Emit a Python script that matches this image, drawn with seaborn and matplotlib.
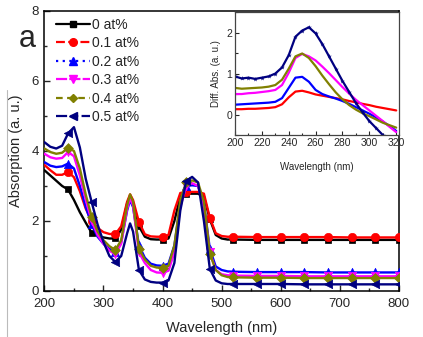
import numpy as np
import pandas as pd
import seaborn as sns
import matplotlib
matplotlib.use("Agg")
import matplotlib.pyplot as plt
from matplotlib.lines import Line2D
from matplotlib.ticker import MultipleLocator

# ---------------- data (main panel) ----------------
wl = [200, 210, 220, 230, 240, 250, 260, 270, 280, 290, 300, 310, 320, 330, 340, 345, 350,
      360, 370, 380, 390, 400, 410, 420, 430, 440, 450, 460, 470, 480, 490, 500, 510, 520,
      560, 600, 640, 680, 720, 760, 800]

abs_0 = [3.45, 3.30, 3.15, 3.00, 2.90, 2.60, 2.25, 1.95, 1.66, 1.58, 1.53, 1.50, 1.50, 1.75, 2.50, 2.70, 2.50,
         1.85, 1.55, 1.48, 1.47, 1.47, 1.50, 2.00, 2.70, 2.78, 2.78, 2.78, 2.70, 2.05, 1.60, 1.50, 1.47, 1.47,
         1.46, 1.46, 1.46, 1.46, 1.46, 1.46, 1.46]
abs_1 = [3.60, 3.45, 3.32, 3.32, 3.40, 3.25, 2.85, 2.35, 2.00, 1.80, 1.68, 1.63, 1.62, 1.85, 2.55, 2.76, 2.60,
         1.97, 1.62, 1.56, 1.55, 1.55, 1.60, 2.30, 2.80, 2.83, 2.83, 2.83, 2.78, 2.09, 1.65, 1.57, 1.55, 1.55,
         1.54, 1.54, 1.54, 1.54, 1.53, 1.53, 1.53]
abs_2 = [3.68, 3.58, 3.54, 3.56, 3.64, 3.50, 3.00, 2.40, 1.90, 1.55, 1.35, 1.20, 1.12, 1.40, 2.30, 2.60, 2.40,
         1.30, 0.95, 0.78, 0.73, 0.72, 0.78, 1.30, 2.50, 3.00, 3.02, 3.00, 2.50, 1.20, 0.70, 0.60, 0.56, 0.55,
         0.54, 0.54, 0.54, 0.53, 0.53, 0.53, 0.53]
abs_3 = [3.92, 3.82, 3.78, 3.80, 3.97, 3.85, 3.30, 2.60, 2.00, 1.60, 1.35, 1.15, 1.05, 1.35, 2.35, 2.65, 2.45,
         1.10, 0.80, 0.60, 0.53, 0.52, 0.58, 1.10, 2.40, 3.00, 3.08, 3.00, 2.40, 1.10, 0.60, 0.48, 0.45, 0.44,
         0.43, 0.43, 0.42, 0.42, 0.42, 0.42, 0.42]
abs_4 = [4.07, 3.97, 3.92, 3.95, 4.09, 4.00, 3.50, 2.75, 2.12, 1.70, 1.45, 1.28, 1.17, 1.45, 2.45, 2.76, 2.55,
         1.21, 0.90, 0.72, 0.67, 0.66, 0.72, 1.30, 2.60, 3.10, 3.16, 3.10, 2.55, 1.07, 0.60, 0.45, 0.40, 0.39,
         0.38, 0.38, 0.37, 0.37, 0.37, 0.37, 0.37]
abs_5 = [4.25, 4.12, 4.07, 4.15, 4.50, 4.68, 4.10, 3.20, 2.54, 1.90, 1.40, 1.00, 0.83, 1.00, 1.65, 1.93, 1.70,
         0.60, 0.33, 0.26, 0.24, 0.24, 0.30, 0.80, 2.30, 3.14, 3.26, 3.10, 2.00, 0.63, 0.30, 0.22, 0.20, 0.20,
         0.20, 0.20, 0.19, 0.19, 0.19, 0.19, 0.19]

labels = ["0 at%", "0.1 at%", "0.2 at%", "0.3 at%", "0.4 at%", "0.5 at%"]

# ---------------- data (inset) ----------------
wl_in = [200, 205, 210, 215, 220, 225, 230, 235, 240, 245, 250, 255, 260, 265, 270, 275, 280,
         285, 290, 295, 300, 305, 310, 315, 320]
diff_1 = [0.13, 0.13, 0.14, 0.14, 0.15, 0.16, 0.18, 0.25, 0.42, 0.56, 0.58, 0.54, 0.49, 0.46, 0.43, 0.40, 0.37,
          0.33, 0.30, 0.26, 0.23, 0.19, 0.16, 0.13, 0.10]
diff_2 = [0.24, 0.25, 0.26, 0.27, 0.28, 0.29, 0.31, 0.40, 0.65, 0.90, 0.92, 0.80, 0.60, 0.50, 0.44, 0.39, 0.33,
          0.26, 0.18, 0.10, 0.02, -0.07, -0.17, -0.28, -0.40]
diff_3 = [0.50, 0.50, 0.52, 0.53, 0.55, 0.57, 0.60, 0.72, 1.02, 1.38, 1.48, 1.42, 1.32, 1.17, 1.01, 0.84, 0.67,
          0.51, 0.36, 0.23, 0.10, -0.03, -0.16, -0.30, -0.43]
diff_4 = [0.65, 0.63, 0.64, 0.65, 0.66, 0.68, 0.72, 0.85, 1.12, 1.42, 1.49, 1.38, 1.18, 0.95, 0.74, 0.54, 0.37,
          0.23, 0.12, 0.03, -0.04, -0.12, -0.20, -0.26, -0.32]
diff_5 = [0.93, 0.88, 0.90, 0.87, 0.90, 0.93, 1.00, 1.15, 1.45, 1.90, 2.05, 2.13, 1.98, 1.72, 1.42, 1.12, 0.82,
          0.55, 0.28, 0.05, -0.16, -0.33, -0.50, -0.68, -0.86]

# ---------------- styles ----------------
colors = ["#000000", "#ff0000", "#0000ff", "#ff00ff", "#808000", "#000080"]
markers = ["s", "o", "^", "v", "D", "<"]
msizes = [5, 6, 6, 6, 5, 6]
leg_ls = ["-", (0, (4, 1.5)), (0, (1, 2)), (0, (5, 1)), (0, (3, 2)), (0, (5, 1.5, 1, 1.5, 1, 1.5))]

sns.set_theme(style="ticks")
plt.rcParams["font.family"] = ["Liberation Sans", "DejaVu Sans"]
plt.rcParams["xtick.direction"] = "in"
plt.rcParams["ytick.direction"] = "in"

fig = plt.figure(figsize=(4.23, 3.37), dpi=100)
ax = fig.add_axes([0.105, 0.1365, 0.838, 0.831])

main_series = [abs_0, abs_1, abs_2, abs_3, abs_4, abs_5]
rows = []
for lab, ys in zip(labels, main_series):
    for x, y in zip(wl, ys):
        rows.append((lab, x, y))
df = pd.DataFrame(rows, columns=["sample", "wavelength", "absorption"])

for i, lab in enumerate(labels):
    d = df[df["sample"] == lab]
    sns.lineplot(data=d, x="wavelength", y="absorption", ax=ax, color=colors[i],
                 lw=1.7, legend=False, zorder=2 + i)
    dm = d[(d["wavelength"] % 40 == 0) & (d["wavelength"] >= 240)]
    sns.scatterplot(data=dm, x="wavelength", y="absorption", ax=ax, color=colors[i],
                    marker=markers[i], s=msizes[i] ** 2, edgecolor=colors[i], linewidth=0.5,
                    legend=False, zorder=2.5 + i)

ax.set_xlim(200, 800)
ax.set_ylim(0, 8)
ax.xaxis.set_major_locator(MultipleLocator(100))
ax.xaxis.set_minor_locator(MultipleLocator(50))
ax.yaxis.set_major_locator(MultipleLocator(2))
ax.yaxis.set_minor_locator(MultipleLocator(1))
ax.tick_params(which="major", length=4, width=1, labelsize=9.5)
ax.tick_params(axis="x", which="major", pad=5)
ax.tick_params(axis="y", which="major", pad=4)
ax.tick_params(which="minor", length=2.5, width=1)
for sp in ax.spines.values():
    sp.set_linewidth(1.1)
    sp.set_color("black")
ax.set_xlabel("Wavelength (nm)", fontsize=10.5, labelpad=8)
ax.set_ylabel("Absorption (a. u.)", fontsize=10.5, labelpad=6)

handles = [Line2D([0], [0], color=colors[i], lw=1.6, ls=leg_ls[i], marker=markers[i],
                  markersize=msizes[i] - 0.5) for i in range(6)]
ax.legend(handles, labels, loc="upper left", frameon=False, fontsize=10,
          handlelength=2.4, handletextpad=0.2, labelspacing=0.32,
          borderaxespad=0.2, bbox_to_anchor=(0.01, 1.005))

fig.text(0.064, 0.885, "a", fontsize=22, ha="center", va="center")

# ---------------- inset ----------------
axi = fig.add_axes([0.5556, 0.5994, 0.3874, 0.3646])
inset_series = [diff_1, diff_2, diff_3, diff_4, diff_5]
rows = []
for lab, ys in zip(labels[1:], inset_series):
    for x, y in zip(wl_in, ys):
        rows.append((lab, x, y))
dfi = pd.DataFrame(rows, columns=["sample", "wavelength", "diff"])
for j, lab in enumerate(labels[1:]):
    d = dfi[dfi["sample"] == lab]
    sns.lineplot(data=d, x="wavelength", y="diff", ax=axi, color=colors[j + 1],
                 lw=1.6, legend=False,
                 marker="*" if j == 4 else None, markersize=3.5, markeredgewidth=0)
axi.set_xlim(200, 322)
axi.set_ylim(-0.5, 2.5)
axi.xaxis.set_major_locator(MultipleLocator(20))
axi.xaxis.set_minor_locator(MultipleLocator(10))
axi.yaxis.set_major_locator(MultipleLocator(1))
axi.yaxis.set_minor_locator(MultipleLocator(0.5))
axi.tick_params(which="major", length=3, width=0.8, labelsize=7.5, pad=2)
axi.tick_params(which="minor", length=1.8, width=0.8)
for sp in axi.spines.values():
    sp.set_linewidth(0.9)
    sp.set_color("#444444")
axi.set_xlabel("Wavelength (nm)", fontsize=7, labelpad=10)
axi.set_ylabel("Diff. Abs. (a. u.)", fontsize=7, labelpad=4)

# page edge line at the left
fig.add_artist(Line2D([7 / 423, 7 / 423], [0, 1 - 90 / 337], transform=fig.transFigure,
                      color="#bbbbbb", lw=0.8))

fig.savefig("out.png", dpi=100)
